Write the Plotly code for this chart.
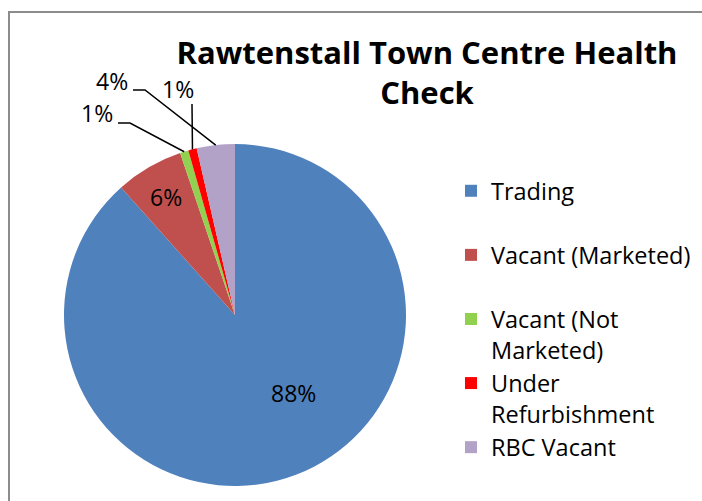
import math
import plotly.graph_objects as go

# data
categories = ["Trading", "Vacant (Marketed)", "Vacant (Not Marketed)",
              "Under Refurbishment", "RBC Vacant"]
units = [221, 16, 2, 2, 9]
colors = ["#4F81BD", "#C0504D", "#92D050", "#FF0000", "#B3A2C7"]
legend_names = ["Trading<br>\u00a0", "Vacant (Marketed)<br>\u00a0",
                "Vacant (Not<br>Marketed)", "Under<br>Refurbishment",
                "RBC Vacant"]

W, H = 702, 501
cx, cy, R = 235, 315, 171   # pie centre / radius in px
FONT = "Open Sans"


def px(x, y):
    return x / W, 1 - y / H


def edge(angle, frac=1.0):
    # angle in degrees, clockwise from 12 o'clock
    a = math.radians(angle)
    return cx + frac * R * math.sin(a), cy - frac * R * math.cos(a)


total = sum(units)
pcts = [u / total for u in units]
mids = []
acc = 0
for p in pcts:
    mids.append((acc + p / 2) * 360)
    acc += p

fig = go.Figure(go.Pie(
    labels=legend_names,
    values=units,
    sort=False,
    direction="clockwise",
    rotation=0,
    marker=dict(colors=colors, line=dict(width=0)),
    textinfo="none",
    hoverinfo="label+percent",
    domain=dict(x=[(cx - R) / W, (cx + R) / W],
                y=[(H - cy - R) / H, (H - cy + R) / H]),
))

annotations = []
shapes = []
lbl_font = dict(family=FONT, size=23, color="black")

# labels inside the pie
inside = {0: (143, 0.57), 1: (None, 0.8)}
for i, (ang, frac) in inside.items():
    a = mids[i] if ang is None else ang
    x, y = px(*edge(a, frac))
    annotations.append(dict(x=x, y=y, xref="paper", yref="paper",
                            xanchor="center", yanchor="middle",
                            text="%d%%" % round(pcts[i] * 100),
                            showarrow=False, font=lbl_font))

# outside labels with leader lines: text centre, elbow, line end
outside = {
    2: ((97, 113), (130, 123), (118, 123)),
    3: ((178, 89), None, (192, 104)),
    4: ((112, 81), (145, 90), (133, 90)),
}
for i, (tpos, elbow, end) in outside.items():
    ex, ey = edge(mids[i])
    pts = [(ex, ey)] + ([elbow] if elbow else []) + [end]
    path = "M " + " L ".join("%f,%f" % px(*p) for p in pts)
    shapes.append(dict(type="path", path=path, xref="paper", yref="paper",
                       line=dict(color="black", width=1.5)))
    x, y = px(*tpos)
    annotations.append(dict(x=x, y=y, xref="paper", yref="paper",
                            xanchor="center", yanchor="middle",
                            text="%d%%" % round(pcts[i] * 100),
                            showarrow=False, font=lbl_font))

# chart border
shapes.append(dict(type="rect", xref="paper", yref="paper",
                   x0=9 / W, y0=-0.1, x1=1.1, y1=1 - 12 / H,
                   line=dict(color="#8C8C8C", width=2)))

fig.update_layout(
    width=W, height=H,
    margin=dict(l=0, r=0, t=0, b=0),
    paper_bgcolor="white",
    font=dict(family=FONT, color="black"),
    title=dict(text="<b>Rawtenstall Town Centre Health<br>Check</b>",
               x=427 / W, xanchor="center", y=1 - 64 / H, yanchor="top",
               font=dict(family=FONT, size=31, color="black")),
    legend=dict(x=451 / W, xanchor="left", y=1 - 169 / H, yanchor="top",
                valign="top", itemwidth=30,
                font=dict(family=FONT, size=23.5, color="black")),
    annotations=annotations,
    shapes=shapes,
)

fig.write_html("out.html", config={"displayModeBar": False},
               post_script="document.body.style.margin='0px';")
